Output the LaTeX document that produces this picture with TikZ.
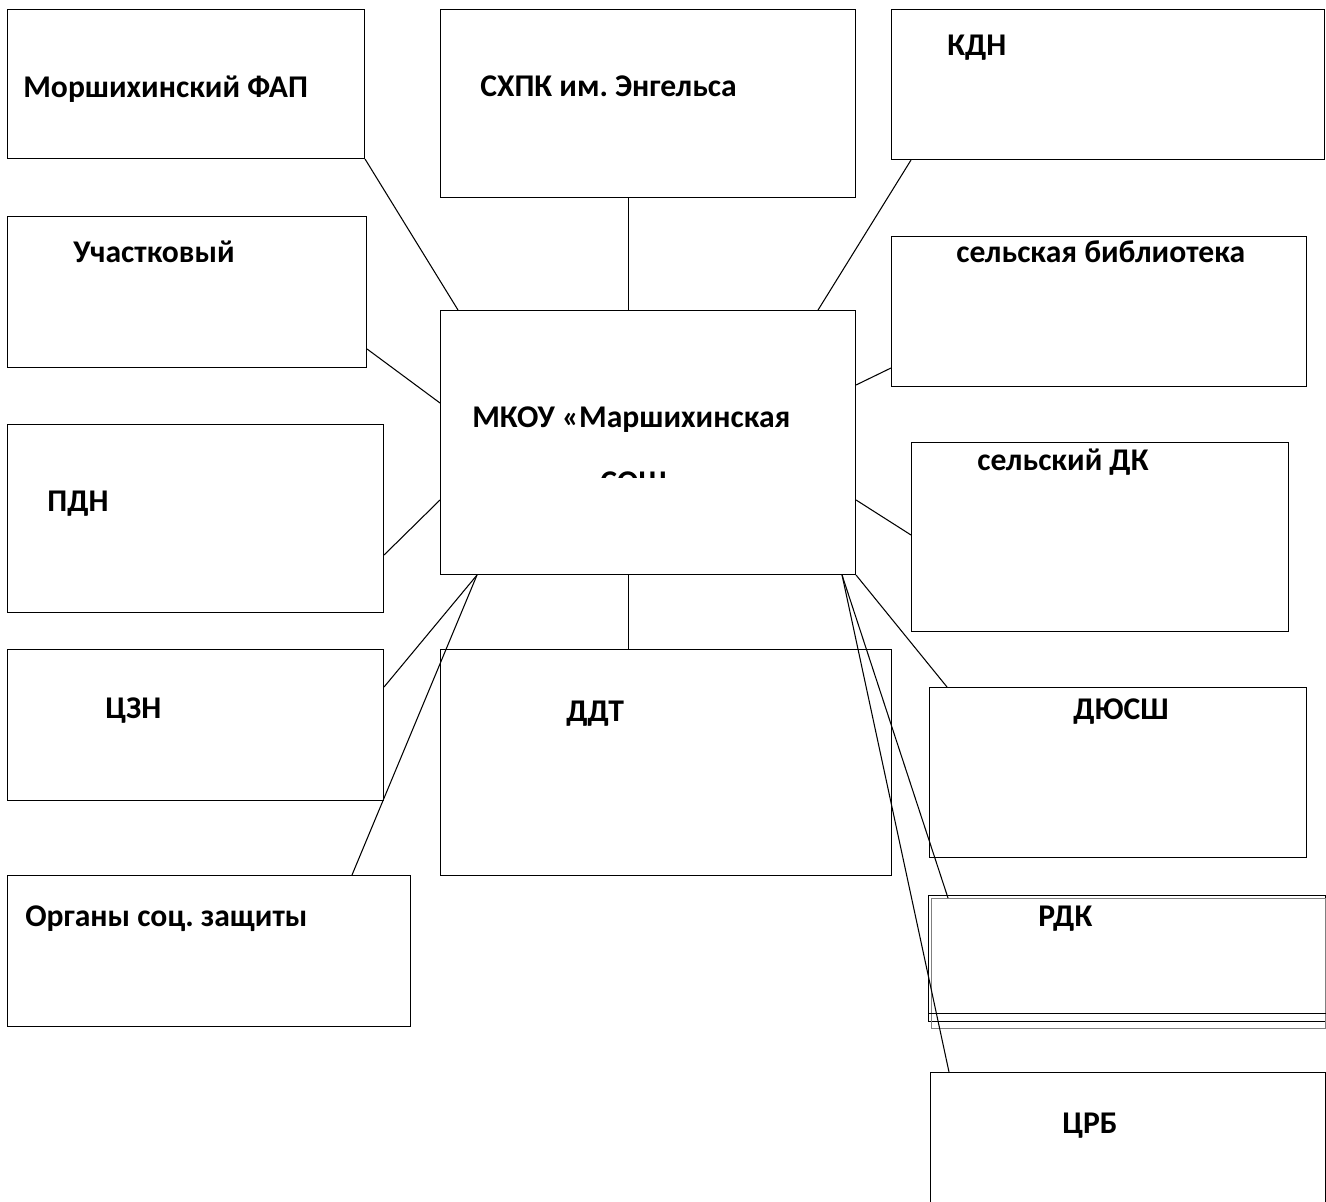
\documentclass[tikz,border=0pt]{standalone}
\usepackage{fontspec}
\setmainfont{Carlito}
\frenchspacing
\usetikzlibrary{calc}
\tikzset{
  org box/.style={
      draw,
      rectangle,
      anchor=north west,
      inner sep=0pt,
      line width=0.6pt
      },
  sz/.style 2 args={
      minimum width=#1*0.02cm,
      minimum height=#2*0.02cm
      },
  org text/.style={
      anchor=base west,
      inner sep=0pt,
      font=\fontsize{18}{22}\selectfont\bfseries
      },
  link/.style={line width=0.6pt}
}

\begin{document}
\begin{tikzpicture}[x=0.02cm,y=-0.02cm]
\clip (0,0) rectangle (1326,1202);
\node [org box, sz={357}{149}] (fap) at (7,9) {};
\node [org box, sz={415}{188}] (schpk) at (440,9) {};
\node [org box, sz={433}{150}] (kdn) at (891,9) {};
\node [org box, sz={359}{151}] (uch) at (7,216) {};
\node [org box, sz={415}{150}] (lib) at (891,236) {};
\node [org box, sz={415}{264}] (mkou) at (440,310) {};
\node [org box, sz={376}{188}] (pdn) at (7,424) {};
\node [org box, sz={377}{189}] (dk) at (911,442) {};
\node [org box, sz={376}{151}] (czn) at (7,649) {};
\node [org box, sz={451}{226}] (ddt) at (440,649) {};
\node [org box, sz={377}{170}] (dyussh) at (929,687) {};
\node [org box, sz={403}{151}] (osz) at (7,875) {};
\node [org box, sz={397}{126}] (rdk) at (928,895) {};
\node [org box, sz={395}{160}] (crb) at (930,1072) {};
\draw [gray, line width=0.4pt] ($(rdk.north west)+(3,3)$) rectangle ($(rdk.south east)+(-1,6)$);
\draw [link] ($(rdk.south west)+(0,-9)$) -- ($(rdk.south east)+(0,-9)$);

\node [org text] (fap-t) at (23,98) {Моршихинский ФАП};
\node [org text] (schpk-t) at (480,97) {СХПК им. Энгельса};
\node [org text] (kdn-t) at (947,56) {КДН};
\node [org text] (uch-t) at (73,263) {Участковый};
\node [org text] (lib-t) at (956,263) {сельская библиотека};
\node [org text] (mkou-t) at (472,428) {МКОУ «Маршихинская};
\begin{scope}
\clip (440,400) rectangle (855,478);
\node [org text] (mkou-t2) at (600,493) {СОШ};
\end{scope}
\node [org text] (pdn-t) at (47,512) {ПДН};
\node [org text] (dk-t) at (977,471) {сельский ДК};
\node [org text] (czn-t) at (105,719) {ЦЗН};
\node [org text] (ddt-t) at (566,722) {ДДТ};
\node [org text] (dyussh-t) at (1073,720) {ДЮСШ};
\node [org text] (osz-t) at (25,926) {Органы соц. защиты};
\node [org text] (rdk-t) at (1038,926) {РДК};
\node [org text] (crb-t) at (1062,1133) {ЦРБ};

\draw [link] (fap.south east) -- ($(mkou.north west)+(18,0)$);
\draw [link] ($(schpk.south west)+(188.5,0)$) -- ($(mkou.north west)+(188.5,0)$);
\draw [link] ($(kdn.south west)+(20,0)$) -- ($(mkou.north east)+(-38,0)$);
\draw [link] ($(uch.north east)+(0,133)$) -- ($(mkou.north west)+(0,93)$);
\draw [link] ($(lib.north west)+(0,132)$) -- ($(mkou.north east)+(0,75)$);
\draw [link] ($(pdn.north east)+(0,131)$) -- ($(mkou.north west)+(0,190)$);
\draw [link] ($(dk.north west)+(0,93)$) -- ($(mkou.north east)+(0,190)$);
\draw [link] ($(czn.north east)+(0,38)$) -- ($(mkou.south west)+(37,0)$);
\draw [link] ($(osz.north west)+(345,0)$) -- ($(mkou.south west)+(37,0)$);
\draw [link] ($(mkou.south west)+(188.5,0)$) -- ($(ddt.north west)+(188.5,0)$);
\draw [link] (mkou.south east) -- ($(dyussh.north west)+(18,0)$);
\draw [link] ($(mkou.south east)+(-14,0)$) -- ($(rdk.north west)+(20,3)$);
\draw [link] ($(mkou.south east)+(-14,0)$) -- ($(crb.north west)+(19,0)$);
\end{tikzpicture}
\end{document}
